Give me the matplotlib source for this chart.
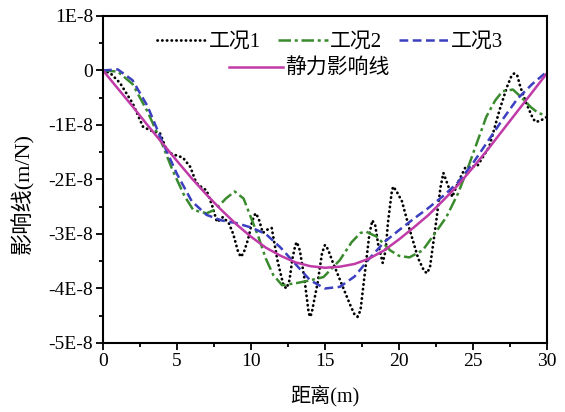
import matplotlib
matplotlib.use("Agg")
import matplotlib.pyplot as plt
from matplotlib.ticker import MultipleLocator, FuncFormatter

plt.rcParams['font.family'] = ['Liberation Serif', 'Noto Sans CJK SC']
plt.rcParams['axes.unicode_minus'] = False

# values in units of 1E-8 m/N
case1_x = [0, 0.5, 1.15, 2.0, 2.7, 3.2, 3.85, 4.3, 4.7, 5.0, 5.4, 5.9, 6.3, 6.7, 7.0, 7.4, 7.7,
           7.9, 8.1, 8.5, 8.8, 9.1, 9.3, 9.5, 9.8, 10.1, 10.3, 10.5, 10.8, 11.1, 11.4, 11.8,
           12.2, 12.4, 12.6, 12.8, 13.0, 13.1, 13.3, 13.6, 13.9, 14.0, 14.1, 14.5, 14.8,
           15.0, 15.2, 15.5, 16.1, 16.7, 17.0, 17.2, 17.4, 17.7, 18.0, 18.2, 18.4, 18.6,
           18.9, 19.1, 19.25, 19.5, 19.6, 19.8, 20.2, 20.7, 21.3, 21.7, 21.9, 22.1, 22.5,
           22.8, 23.0, 23.3, 23.6, 24.0, 24.5, 25.3, 26.1, 26.8, 27.3, 27.6, 27.8, 28.0,
           28.2, 28.6, 29.0, 29.2, 29.5, 30.0]
case1_y = [0, -0.05, -0.23, -0.6, -1.03, -1.1, -1.15, -1.46, -1.54, -1.56, -1.6, -1.77, -2.06,
           -2.15, -2.2, -2.5, -2.78, -2.74, -2.69, -2.8, -3.0, -3.3, -3.42, -3.35, -3.1,
           -2.75, -2.62, -2.7, -2.98, -2.92, -2.89, -3.5, -3.95, -4.0, -3.85, -3.45, -3.2,
           -3.15, -3.3, -3.8, -4.45, -4.52, -4.45, -3.9, -3.35, -3.2, -3.28, -3.5, -3.9,
           -4.3, -4.48, -4.52, -4.4, -3.7, -3.0, -2.75, -2.85, -3.2, -3.53, -3.3, -2.8,
           -2.25, -2.13, -2.2, -2.4, -2.9, -3.45, -3.68, -3.72, -3.6, -2.8, -2.15, -1.88,
           -2.1, -2.32, -2.05, -1.77, -1.75, -1.4, -0.72, -0.3, -0.1, -0.05, -0.1, -0.3,
           -0.6, -0.85, -0.94, -0.93, -0.85]

case2_x = [0, 1, 2, 3, 4, 4.7, 5.5, 6.1, 7.0, 7.6, 8.3, 8.9, 9.5, 10.0, 10.5, 11.0, 11.5,
           12.1, 12.6, 13.1, 14.0, 14.9, 16.0, 16.8, 17.4, 17.8, 18.5, 19.4, 20.0, 20.7,
           21.6, 22.4, 23.2, 24.0, 24.6, 25.3, 25.9, 26.5, 27.0, 27.7, 28.3, 28.9, 29.4, 30.0]
case2_y = [0, -0.02, -0.25, -0.75, -1.35, -1.83, -2.3, -2.56, -2.62, -2.55, -2.35, -2.22,
           -2.35, -2.7, -3.05, -3.45, -3.75, -3.94, -3.92, -3.9, -3.85, -3.79, -3.48, -3.15,
           -2.98, -2.96, -3.05, -3.3, -3.4, -3.43, -3.3, -3.0, -2.69, -2.25, -1.83, -1.3,
           -0.85, -0.55, -0.38, -0.35, -0.5, -0.67, -0.78, -0.83]

case3_x = list(range(0, 31))
case3_y = [0, 0.02, -0.18, -0.65, -1.3, -1.9, -2.4, -2.65, -2.75, -2.8, -2.88, -3.0,
           -3.25, -3.55, -3.85, -4.0, -3.97, -3.78, -3.45, -3.15, -2.93, -2.72, -2.52,
           -2.3, -2.05, -1.7, -1.3, -0.9, -0.52, -0.25, -0.02]

static_x = list(range(0, 31))
static_y = [0, -0.33, -0.66, -1.0, -1.33, -1.66, -1.98, -2.28, -2.56, -2.82, -3.05, -3.25,
            -3.4, -3.52, -3.59, -3.62, -3.6, -3.55, -3.45, -3.3, -3.1, -2.88, -2.65, -2.38,
            -2.1, -1.78, -1.45, -1.1, -0.75, -0.4, -0.05]

labels = ['工况1', '工况2', '工况3', '静力影响线']

fig = plt.figure(figsize=(5.65, 4.12), dpi=100)
ax = fig.add_axes([0.1823, 0.1675, 0.7858, 0.7937])

l1, = ax.plot(case1_x, case1_y, color='black', lw=2.0, ls=(0, (0.1, 1.6)),
              dash_capstyle='round', solid_joinstyle='round')
l2, = ax.plot(case2_x, case2_y, color='#3a8a2e', lw=1.8, ls=(0, (5, 1.5, 1.2, 1.5)))
l3, = ax.plot(case3_x, case3_y, color='#3b3fc0', lw=1.8, ls=(0, (3.5, 1.8)))
l4, = ax.plot(static_x, static_y, color='#c03aa8', lw=1.8)

ax.set_xlim(0, 30)
ax.set_ylim(-5, 1)
ax.xaxis.set_major_locator(MultipleLocator(5))
ax.xaxis.set_minor_locator(MultipleLocator(2.5))
ax.yaxis.set_major_locator(MultipleLocator(1))
ax.yaxis.set_minor_locator(MultipleLocator(0.5))
ax.yaxis.set_major_formatter(FuncFormatter(lambda v, p: '0' if abs(v) < 1e-9 else '%dE-8' % round(v)))
ax.tick_params(which='both', direction='out', width=1.3, labelsize=14, pad=2)
ax.tick_params(which='major', length=5)
ax.tick_params(which='minor', length=3)
for s in ax.spines.values():
    s.set_linewidth(1.5)

ax.set_xlabel('距离(m)', fontsize=14.5, labelpad=11)
ax.set_ylabel('影响线(m/N)', fontsize=16)
ax.yaxis.set_label_coords(-0.155, 0.456)

leg1 = ax.legend([l1, l2, l3], labels[:3], loc='center', bbox_to_anchor=(0.511, 0.92),
                 ncol=3, frameon=False, fontsize=15, handlelength=2.4, handletextpad=0.1,
                 columnspacing=0.8, borderpad=0, borderaxespad=0)
ax.add_artist(leg1)
ax.legend([l4], labels[3:], loc='center', bbox_to_anchor=(0.464, 0.838), frameon=False,
          fontsize=15, handlelength=2.6, handletextpad=0.1, borderpad=0, borderaxespad=0)

fig.savefig('out.png', dpi=100)
